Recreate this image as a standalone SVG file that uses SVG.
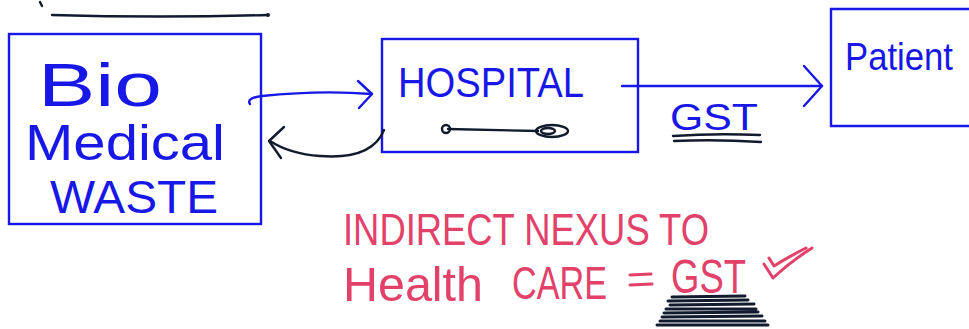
<svg xmlns="http://www.w3.org/2000/svg" width="969" height="329" viewBox="0 0 969 329">
  <style>
    .box { fill: none; stroke: #1717e8; stroke-width: 2.4; }
    .pen { fill: none; stroke-linecap: round; stroke-linejoin: round; }
    .blue { stroke: #1717e8; stroke-width: 2.4; }
    .ink { stroke: #121a2e; stroke-width: 2.4; }
    .red { stroke: #e2416a; stroke-width: 3; }
    .bt { fill: #1717e8; font-family: "Liberation Sans", "DejaVu Sans", sans-serif; }
    .rt { fill: #e2416a; font-family: "Liberation Sans", "DejaVu Sans", sans-serif; }
  </style>
  <rect width="969" height="329" fill="#ffffff"/>

  <!-- heading stroke at top -->
  <path class="pen ink" d="M40 2 L42 6 M52 15 Q160 18 268 15" stroke-width="2.6"/>
  <circle cx="268" cy="15" r="2" fill="#121a2e"/>

  <g id="node-biomedical-waste">
    <rect class="box" x="9" y="34" width="252" height="190"/>
    <text class="bt" x="38" y="106" font-size="62" textLength="124" lengthAdjust="spacingAndGlyphs">Bio</text>
    <text class="bt" x="25" y="160" font-size="50" textLength="200" lengthAdjust="spacingAndGlyphs">Medical</text>
    <text class="bt" x="50" y="213" font-size="46" textLength="168" lengthAdjust="spacingAndGlyphs">WASTE</text>
  </g>

  <g id="node-hospital">
    <rect class="box" x="382" y="39" width="256" height="113"/>
    <text class="bt" x="398" y="97" font-size="42" textLength="186" lengthAdjust="spacingAndGlyphs">HOSPITAL</text>
    <!-- small pen sketch inside the box -->
    <path class="pen ink" d="M448 129 Q500 130 538 131"/>
    <circle class="pen ink" cx="446" cy="129" r="4"/>
    <ellipse class="pen ink" cx="552" cy="131" rx="16" ry="6"/>
    <ellipse class="pen ink" cx="548" cy="131" rx="7" ry="3"/>
  </g>

  <g id="node-patient">
    <!-- box runs on past the right edge of the sheet -->
    <path class="box" d="M969 9 H831 V126 H969"/>
    <text class="bt" x="845" y="70" font-size="38" textLength="108" lengthAdjust="spacingAndGlyphs">Patient</text>
  </g>

  <g id="connectors">
    <!-- Bio medical waste to hospital -->
    <path class="pen blue" d="M250 104 Q246 98 262 96 Q320 90 372 94"/>
    <path class="pen blue" d="M358 81 L372 94 L359 108"/>
    <!-- hospital back to bio medical waste -->
    <path class="pen ink" d="M384 130 Q372 160 320 156 Q290 154 270 141"/>
    <path class="pen ink" d="M284 127 L269 141 L281 158"/>
    <!-- hospital to patient -->
    <path class="pen blue" d="M622 86 L822 86"/>
    <path class="pen blue" d="M804 66 L822 86 L804 106"/>
    <!-- GST label on the arrow -->
    <text class="bt" x="670" y="130" font-size="36" textLength="88" lengthAdjust="spacingAndGlyphs">GST</text>
    <path class="pen ink" d="M673 136 Q715 133 760 135 M674 141 Q716 139 761 142"/>
  </g>

  <g id="note">
    <text class="rt" x="343" y="245" font-size="44" textLength="366" lengthAdjust="spacingAndGlyphs">INDIRECT NEXUS TO</text>
    <text class="rt" x="343" y="301" font-size="48" textLength="140" lengthAdjust="spacingAndGlyphs">Health</text>
    <text class="rt" x="512" y="299" font-size="46" textLength="95" lengthAdjust="spacingAndGlyphs">CARE</text>
    <path class="pen red" d="M630 275 L651 274 M630 285 L652 284"/>
    <text class="rt" x="671" y="293" font-size="48" textLength="75" lengthAdjust="spacingAndGlyphs">GST</text>
    <!-- tick marks -->
    <path class="pen red" d="M764 264 L773 278 Q790 262 812 248 M769 258 L774 266 Q790 256 806 248"/>
    <!-- dark scribble under the cost -->
    <path class="pen" stroke="#121a2e" stroke-width="3" d="M672 297 L745 296 M668 301 L748 300 M670 305 L754 304 M666 309 L756 309 M664 313 L758 312 M662 317 L762 316 M660 321 L765 321 M657 325 L768 325"/>
  </g>
</svg>
